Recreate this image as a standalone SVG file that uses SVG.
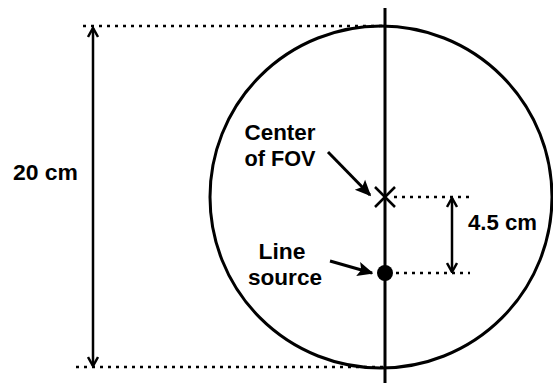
<svg xmlns="http://www.w3.org/2000/svg" width="553" height="383" viewBox="0 0 553 383">
<defs>
<marker id="ah" viewBox="0 0 12 12" refX="11" refY="6" markerWidth="12" markerHeight="12" orient="auto-start-reverse" markerUnits="userSpaceOnUse">
<path d="M2,1 L11,6 L2,11" fill="none" stroke="#000" stroke-width="2.5"/>
</marker>
<marker id="fh" viewBox="0 0 10 10" refX="9" refY="5" markerWidth="16" markerHeight="16" orient="auto" markerUnits="userSpaceOnUse">
<path d="M0,0.5 L10,5 L0,9.5 L2,5 Z" fill="#000"/>
</marker>
<style>
.ln{stroke:#000;stroke-width:3;fill:none}
.dot{stroke:#000;stroke-width:2.5;stroke-dasharray:3 5;fill:none}
.t{font-family:"Liberation Sans",Arial,sans-serif;font-weight:bold;font-size:21.5px;fill:#000}
.m{text-anchor:middle}
</style>
</defs>
<rect width="553" height="383" fill="#fff"/>
<g id="fov">
<circle cx="381" cy="197" r="171" class="ln"/>
<line x1="385" y1="8" x2="385" y2="383" class="ln"/>
</g>
<g id="connectors">
<line x1="83" y1="26" x2="385" y2="26" class="dot"/>
<line x1="76" y1="367" x2="385" y2="367" class="dot"/>
<line x1="93" y1="28" x2="93" y2="366" class="ln" marker-start="url(#ah)" marker-end="url(#ah)" style="stroke-width:2.5"/>
<line x1="394" y1="197" x2="470" y2="197" class="dot"/>
<line x1="396" y1="273" x2="470" y2="273" class="dot"/>
<line x1="452" y1="198" x2="452" y2="272" class="ln" marker-start="url(#ah)" marker-end="url(#ah)" style="stroke-width:2.5"/>
<line x1="328" y1="152" x2="370" y2="195" class="ln" marker-end="url(#fh)"/>
<line x1="330" y1="261" x2="372" y2="273" class="ln" marker-end="url(#fh)"/>
</g>
<g id="center">
<path d="M375,187 L395,207 M395,187 L375,207" class="ln" style="stroke-width:2.5"/>
<text x="280" y="140" class="t m" textLength="71" lengthAdjust="spacingAndGlyphs">Center</text>
<text x="280" y="166" class="t m" textLength="71" lengthAdjust="spacingAndGlyphs">of FOV</text>
</g>
<g id="source">
<circle cx="385" cy="273" r="8" fill="#000"/>
<text x="282" y="259" class="t m" textLength="47" lengthAdjust="spacingAndGlyphs">Line</text>
<text x="285" y="285" class="t m" textLength="74" lengthAdjust="spacingAndGlyphs">source</text>
</g>
<g id="dims">
<text x="13" y="180" class="t" textLength="65" lengthAdjust="spacingAndGlyphs">20 cm</text>
<text x="468" y="230" class="t" textLength="69" lengthAdjust="spacingAndGlyphs">4.5 cm</text>
</g>
</svg>
